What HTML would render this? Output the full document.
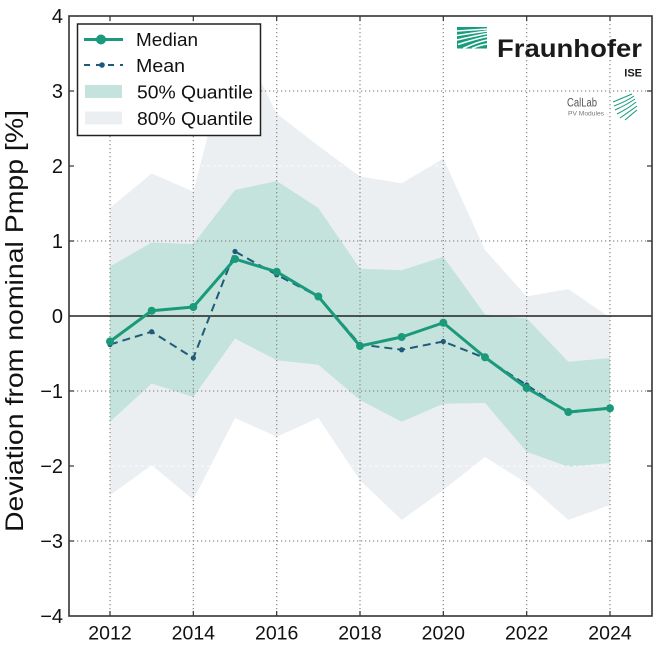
<!DOCTYPE html>
<html><head><meta charset="utf-8"><style>
html,body{margin:0;padding:0;background:#fff;}
svg{display:block;font-family:"Liberation Sans",sans-serif;}
</style></head><body>
<svg width="660" height="655" viewBox="0 0 660 655" xmlns="http://www.w3.org/2000/svg">
<rect width="660" height="655" fill="#fff"/>
<!-- 80% band -->
<polygon fill="#eceff2" points="110,208 151.67,173.5 193.33,191.5 235,30.25 276.67,113.5 318.33,145.75 360,176.5 401.67,183.25 443.33,158.5 485,250 526.67,296.5 568.33,289 610,317.5 610,505 568.33,520 526.67,483.25 485,457 443.33,490 401.67,520 360,480.25 318.33,418 276.67,436.75 235,418 193.33,499.75 151.67,465.25 110,495.25"/>
<!-- 50% band -->
<polygon fill="#c3e3dc" points="110,266.5 151.67,242.5 193.33,244 235,190 276.67,181 318.33,208 360,268.75 401.67,270.25 443.33,256.75 485,314.5 526.67,318.25 568.33,361.75 610,358 610,463 568.33,466.75 526.67,451.75 485,403 443.33,403.75 401.67,421.75 360,400 318.33,364.75 276.67,360.25 235,338.5 193.33,397 151.67,383.5 110,421.75"/>
<!-- faint gridlines -->
<g stroke="#ffffff" stroke-width="1" stroke-dasharray="3,3" opacity="0.8">
<line x1="69" y1="166" x2="652" y2="166"/>
<line x1="69" y1="466" x2="652" y2="466"/>
</g>
<!-- gridlines -->
<g stroke="#8a8a8a" stroke-width="1.2" stroke-dasharray="1.2,2.8">
<line x1="110" y1="16" x2="110" y2="616"/>
<line x1="193.33" y1="16" x2="193.33" y2="616"/>
<line x1="276.67" y1="16" x2="276.67" y2="616"/>
<line x1="360" y1="16" x2="360" y2="616"/>
<line x1="443.33" y1="16" x2="443.33" y2="616"/>
<line x1="526.67" y1="16" x2="526.67" y2="616"/>
<line x1="610" y1="16" x2="610" y2="616"/>
<line x1="69" y1="91" x2="652" y2="91"/>
<line x1="69" y1="241" x2="652" y2="241"/>
<line x1="69" y1="391" x2="652" y2="391"/>
<line x1="69" y1="541" x2="652" y2="541"/>
</g>
<!-- zero line -->
<line x1="69" y1="316" x2="652" y2="316" stroke="#222" stroke-width="1.6"/>
<!-- mean -->
<polyline fill="none" stroke="#1f5a78" stroke-width="2" stroke-dasharray="8,5" points="110,344.5 151.67,331.75 193.33,358 235,251.5 276.67,274.75 318.33,296.5 360,344.5 401.67,349.75 443.33,341.5 485,358 526.67,385 568.33,412.75 610,407.5"/>
<g fill="#1f5a78">
<circle cx="110" cy="344.5" r="2.6"/><circle cx="151.67" cy="331.75" r="2.6"/><circle cx="193.33" cy="358" r="2.6"/><circle cx="235" cy="251.5" r="2.6"/><circle cx="276.67" cy="274.75" r="2.6"/><circle cx="318.33" cy="296.5" r="2.6"/><circle cx="360" cy="344.5" r="2.6"/><circle cx="401.67" cy="349.75" r="2.6"/><circle cx="443.33" cy="341.5" r="2.6"/><circle cx="485" cy="358" r="2.6"/><circle cx="526.67" cy="385" r="2.6"/><circle cx="568.33" cy="412.75" r="2.6"/><circle cx="610" cy="407.5" r="2.6"/>
</g>
<!-- median -->
<polyline fill="none" stroke="#1a9a7a" stroke-width="3" stroke-linejoin="round" points="110,341.5 151.67,310.75 193.33,307 235,259 276.67,271.75 318.33,296.5 360,346 401.67,337 443.33,322.75 485,357.25 526.67,388 568.33,412 610,408.25"/>
<g fill="#1a9a7a">
<circle cx="110" cy="341.5" r="4"/><circle cx="151.67" cy="310.75" r="4"/><circle cx="193.33" cy="307" r="4"/><circle cx="235" cy="259" r="4"/><circle cx="276.67" cy="271.75" r="4"/><circle cx="318.33" cy="296.5" r="4"/><circle cx="360" cy="346" r="4"/><circle cx="401.67" cy="337" r="4"/><circle cx="443.33" cy="322.75" r="4"/><circle cx="485" cy="357.25" r="4"/><circle cx="526.67" cy="388" r="4"/><circle cx="568.33" cy="412" r="4"/><circle cx="610" cy="408.25" r="4"/>
</g>
<!-- ticks -->
<g stroke="#333" stroke-width="1.2">
<line x1="69" y1="91" x2="74" y2="91"/><line x1="69" y1="166" x2="74" y2="166"/><line x1="69" y1="241" x2="74" y2="241"/><line x1="69" y1="391" x2="74" y2="391"/><line x1="69" y1="466" x2="74" y2="466"/><line x1="69" y1="541" x2="74" y2="541"/>
<line x1="647" y1="91" x2="652" y2="91"/><line x1="647" y1="166" x2="652" y2="166"/><line x1="647" y1="241" x2="652" y2="241"/><line x1="647" y1="391" x2="652" y2="391"/><line x1="647" y1="466" x2="652" y2="466"/><line x1="647" y1="541" x2="652" y2="541"/>
<line x1="110" y1="616" x2="110" y2="611"/><line x1="193.33" y1="616" x2="193.33" y2="611"/><line x1="276.67" y1="616" x2="276.67" y2="611"/><line x1="360" y1="616" x2="360" y2="611"/><line x1="443.33" y1="616" x2="443.33" y2="611"/><line x1="526.67" y1="616" x2="526.67" y2="611"/><line x1="610" y1="616" x2="610" y2="611"/>
<line x1="110" y1="16" x2="110" y2="21"/><line x1="193.33" y1="16" x2="193.33" y2="21"/><line x1="276.67" y1="16" x2="276.67" y2="21"/><line x1="360" y1="16" x2="360" y2="21"/><line x1="443.33" y1="16" x2="443.33" y2="21"/><line x1="526.67" y1="16" x2="526.67" y2="21"/><line x1="610" y1="16" x2="610" y2="21"/>
</g>
<!-- frame -->
<rect x="69" y="16" width="583" height="600" fill="none" stroke="#333" stroke-width="1.6"/>
<!-- y tick labels -->
<g font-size="20" fill="#111" text-anchor="end">
<text x="63" y="23">4</text>
<text x="63" y="98">3</text>
<text x="63" y="173">2</text>
<text x="63" y="248">1</text>
<text x="63" y="323">0</text>
<text x="63" y="398">−1</text>
<text x="63" y="473">−2</text>
<text x="63" y="548">−3</text>
<text x="63" y="623">−4</text>
</g>
<!-- x tick labels -->
<g font-size="19.5" fill="#111" text-anchor="middle">
<text x="110" y="639.5">2012</text>
<text x="193.33" y="639.5">2014</text>
<text x="276.67" y="639.5">2016</text>
<text x="360" y="639.5">2018</text>
<text x="443.33" y="639.5">2020</text>
<text x="526.67" y="639.5">2022</text>
<text x="610" y="639.5">2024</text>
</g>
<!-- y axis label -->
<text transform="translate(23,532) rotate(-90)" font-size="25" fill="#111" textLength="422" lengthAdjust="spacingAndGlyphs">Deviation from nominal Pmpp [%]</text>
<!-- legend -->
<rect x="77.5" y="24" width="183" height="111.5" fill="#fff" stroke="#222" stroke-width="1.5"/>
<line x1="84" y1="39.5" x2="123" y2="39.5" stroke="#1a9a7a" stroke-width="3"/>
<circle cx="101" cy="39.5" r="5" fill="#1a9a7a"/>
<line x1="84" y1="65" x2="123" y2="65" stroke="#1f5a78" stroke-width="2" stroke-dasharray="6,6"/>
<circle cx="102" cy="65" r="2.8" fill="#1f5a78"/>
<rect x="85" y="85" width="37" height="13" fill="#c3e3dc"/>
<rect x="85" y="111.5" width="37" height="13" fill="#eceff2"/>
<g font-size="18.5" fill="#111">
<text x="136" y="46" textLength="62" lengthAdjust="spacingAndGlyphs">Median</text>
<text x="136" y="72" textLength="49" lengthAdjust="spacingAndGlyphs">Mean</text>
<text x="137" y="98.5" textLength="116" lengthAdjust="spacingAndGlyphs">50% Quantile</text>
<text x="137" y="125" textLength="116" lengthAdjust="spacingAndGlyphs">80% Quantile</text>
</g>
<!-- Fraunhofer logo -->
<rect x="457" y="27" width="30" height="21.5" fill="#179c7d"/>
<g fill="none" stroke="#fff" stroke-width="1.6">
<path d="M457,31 Q472,30 487,29"/>
<path d="M457,35.5 Q473,33 487,31"/>
<path d="M457,40 Q474,36 487,33.5"/>
<path d="M458,44.5 Q475,39 487,36.5"/>
<path d="M463,48.5 Q477,42 487,40"/>
<path d="M472,48.5 Q480,45 487,44"/>
</g>
<text x="497" y="57" font-size="25" font-weight="bold" fill="#1a1a1a" textLength="145" lengthAdjust="spacingAndGlyphs">Fraunhofer</text>
<text x="642" y="76.5" font-size="11" font-weight="bold" fill="#1a1a1a" text-anchor="end">ISE</text>
<text x="567" y="106.5" font-size="11.5" fill="#555" textLength="30" lengthAdjust="spacingAndGlyphs">CalLab</text>
<text x="568" y="115.5" font-size="6" fill="#777" textLength="36" lengthAdjust="spacingAndGlyphs">PV Modules</text>
<g fill="none" stroke="#179c7d" stroke-width="1">
<path d="M613,102 Q625,97 632,94"/>
<path d="M614,106 Q627,101 634,96"/>
<path d="M615,110 Q628,104 635,99"/>
<path d="M617,114 Q629,108 636,102"/>
<path d="M620,118 Q630,111 637,106"/>
<path d="M625,120 Q632,114 637,110"/>
</g>
</svg>
</body></html>
